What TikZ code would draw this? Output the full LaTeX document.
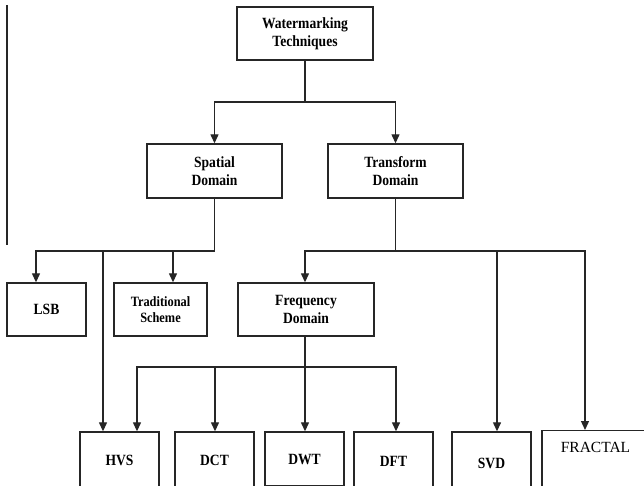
\documentclass[tikz,border=0pt]{standalone}
\usepackage{fontspec}
\setmainfont{Liberation Serif}
\newfontfamily\narrowserif[FakeStretch=0.87]{Liberation Serif}
\usetikzlibrary{arrows.meta}
\begin{document}
\begin{tikzpicture}[x=1pt,y=-1pt,
  box/.style={draw=black!85, line width=1.4pt, inner sep=0pt, align=center,
    font=\narrowserif\bfseries\fontsize{15.6}{17.5}\selectfont},
  arr/.style={line width=1.3pt, draw=black!85, -{Triangle[width=8pt,length=9pt]}},
  ln/.style={line width=1.3pt, draw=black!85}]
\clip (0,0) rectangle (644,485);
\fill[white] (0,0) rectangle (644,485);
% stray left rule
\draw[ln] (7,5) -- (7,245);
% nodes
\node[box, minimum width=136pt, minimum height=53pt] (wm) at (305,33.5) {Watermarking\\Techniques};
\node[box, minimum width=135pt, minimum height=54pt] (sp) at (214.5,171) {Spatial\\Domain};
\node[box, minimum width=135pt, minimum height=54pt] (tr) at (395.5,171) {Transform\\Domain};
\node[box, minimum width=79pt, minimum height=53pt] (lsb) at (46.5,309.5) {LSB};
\node[box, minimum width=93pt, minimum height=53pt, font=\narrowserif\bfseries\fontsize{14.2}{15.5}\selectfont] (trad) at (160.5,309.5) {Traditional\\Scheme};
\node[box, minimum width=136pt, minimum height=53pt] (freq) at (306,309.5) {Frequency\\Domain};
\node[box, minimum width=79pt, minimum height=56pt] (hvs) at (119.5,460) {HVS};
\node[box, minimum width=79pt, minimum height=56pt] (dct) at (214.5,460) {DCT};
\node[box, minimum width=79pt, minimum height=54pt] (dwt) at (304.5,459) {DWT};
\node[box, minimum width=79pt, minimum height=58pt] (dft) at (393.5,461) {DFT};
\node[box, minimum width=79pt, minimum height=62pt] (svd) at (491.5,463) {SVD};
\node[box, minimum width=108pt, minimum height=100pt, anchor=north] (fr) at (596,430) {};
\node[font=\fontsize{15.5}{18}\selectfont, inner sep=0pt] (frt) at (595.5,447) {FRACTAL};
% connectors
\coordinate (j1) at (305,102);
\draw[ln] (wm.south) -- (j1);
\draw[arr] (j1) -| (sp.north);
\draw[arr] (j1) -| (tr.north);
\coordinate (j2) at (214.5,251);
\draw[ln] (sp.south) -- (j2);
\draw[arr] (j2) -| ([xshift=-10.5pt]lsb.north);
\coordinate (b1) at (173,251);
\draw[arr] (b1) -- (b1 |- trad.north);
\coordinate (b2) at (103,251);
\draw[arr] (b2) -- (b2 |- hvs.north);
\coordinate (j3) at (395.5,251);
\draw[ln] (tr.south) -- (j3);
\draw[arr] (j3) -| ([xshift=-1pt]freq.north);
\draw[arr] (j3) -| ([xshift=-11pt]fr.north);
\coordinate (b3) at (497,251);
\draw[arr] (b3) -- (b3 |- svd.north);
\coordinate (j4) at (305,367);
\draw[ln] (freq.south -| j4) -- (j4);
\draw[arr] (j4) -| ([xshift=17.5pt]hvs.north);
\draw[arr] (j4) -| ([xshift=2.5pt]dft.north);
\coordinate (b4) at (215,367);
\draw[arr] (b4) -- (b4 |- dct.north);
\draw[arr] (j4) -- (j4 |- dwt.north);
\end{tikzpicture}
\end{document}
